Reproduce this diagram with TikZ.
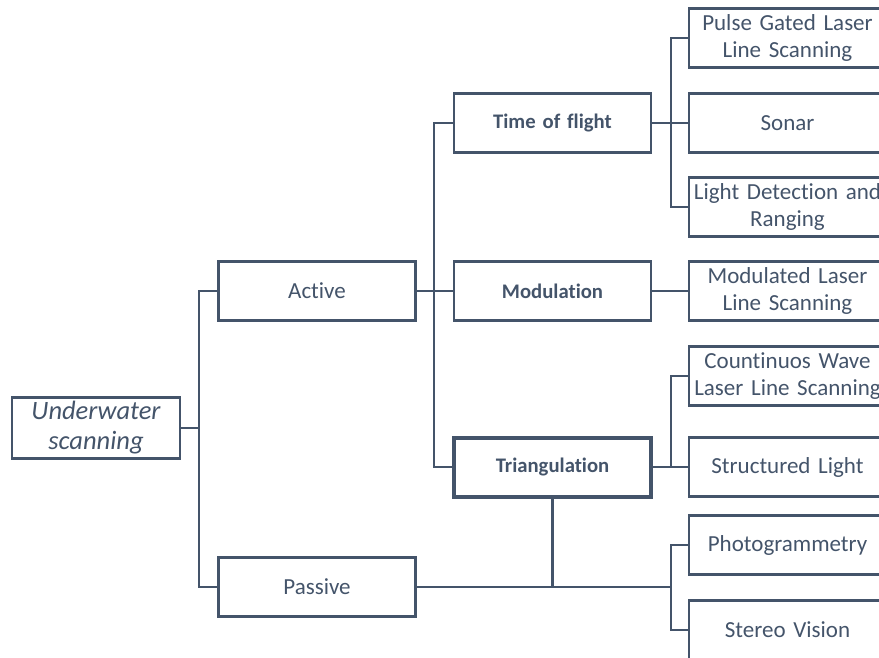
\documentclass[tikz,border=0pt]{standalone}
\usepackage{fontspec}
\setmainfont{Carlito}[Ligatures=NoCommon]
\definecolor{slate}{HTML}{44546A}
\tikzset{x=1pt, y=-1pt, node distance=235pt,
  box/.style={rectangle, draw=slate, text=slate, line width=2.6pt, minimum width=197pt, minimum height=59pt,
    text width=190pt, inner xsep=3.5pt, align=center, font=\fontsize{23}{27}\selectfont},
  key/.style={box, font=\fontsize{20.7}{24}\selectfont\bfseries},
  root/.style={box, minimum width=168pt, text width=160pt, minimum height=61pt, font=\fontsize{26.5}{30}\selectfont\itshape},
  link/.style={draw=slate, line width=2.6pt}}
\begin{document}
\begin{tikzpicture}
    \useasboundingbox (0,0) rectangle (879,657);
    \clip (0,0) rectangle (879,657);
    \node[root] (uw) at (96,428) {Underwater\\scanning};
    \node[box] (act) at (317,291) {Active};
    \node[box] (pas) at (317,587) {Passive};
    \node[key] (tof) at (552.5,123) {Time of flight};
    \node[key, right of=act, node distance=235.5pt] (mod) {Modulation};
    \node[key, line width=4pt] (tri) at (552.5,467) {Triangulation};
    \node[box] (pgl) at (787.5,38) {Pulse Gated Laser\\Line Scanning};
    \node[box, right of=tof] (sonar) {Sonar};
    \node[box] (lidar) at (787.5,207) {Light Detection and\\Ranging};
    \node[box, right of=mod] (mll) {Modulated Laser\\Line Scanning};
    \node[box] (cw) at (787.5,376) {Countinuos Wave\\Laser Line Scanning};
    \node[box, right of=tri] (sl) {Structured Light};
    \node[box] (photo) at (787.5,545) {Photogrammetry};
    \node[box] (stereo) at (787.5,630) {Stereo Vision};
    \coordinate (j1) at (199,428);
    \coordinate (j2) at (434,291);
    \coordinate (j3) at (671,123);
    \coordinate (j4) at (671,467);
    \coordinate (j5) at (671,587);
    \draw[link] (uw.east) -- (j1);
    \draw[link] (act.west) -| (j1) |- (pas.west);
    \draw[link] (act.east) -- (mod.west);
    \draw[link] (tof.west) -| (j2) |- (tri.west);
    \draw[link] (tof.east) -- (sonar.west);
    \draw[link] (pgl.west) -| (j3) |- (lidar.west);
    \draw[link] (mod.east) -- (mll.west);
    \draw[link] (tri.east) -- (sl.west);
    \draw[link] (cw.west) -| (j4);
    \draw[link] (pas.east) -- (j5);
    \draw[link] (photo.west) -| (j5) |- (stereo.west);
    \draw[link] (tri.south) -- (tri.south |- j5);
\end{tikzpicture}
\end{document}
